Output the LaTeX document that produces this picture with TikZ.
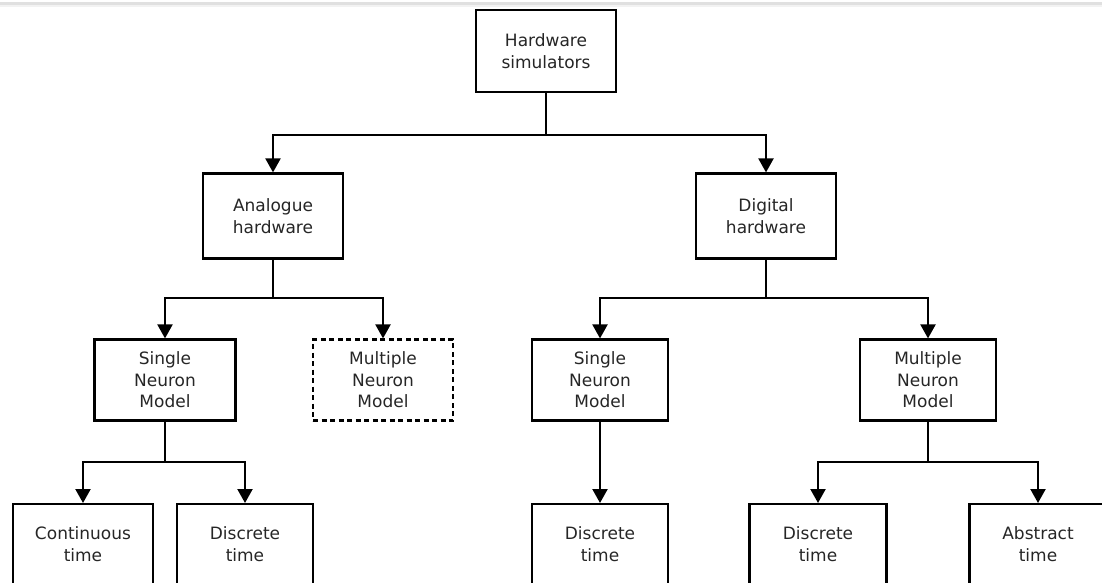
\documentclass[tikz,border=0pt]{standalone}
\usepackage{fontspec}
\setmainfont{DejaVu Sans}
\usetikzlibrary{arrows.meta}
\begin{document}
\begin{tikzpicture}[x=1pt,y=-1pt,
  every node/.style={font=\fontsize{17}{21.5}\selectfont, text=black!85},
  box/.style={draw=black, line width=2.2pt, fill=white, minimum width=138pt, minimum height=82pt, inner sep=0pt, align=center},
  dbox/.style={box, dash pattern=on 5pt off 3.5pt},
  tbox/.style={draw=black, line width=2.2pt, minimum width=138pt, minimum height=140pt, anchor=north, inner sep=0pt},
  lbl/.style={align=center, inner sep=0pt},
  conn/.style={line width=2.2pt, -{Triangle[length=14pt,width=15pt]}},
  plain/.style={line width=2.2pt}]
\useasboundingbox (0,0) rectangle (1102,583);
\clip (0,0) rectangle (1102,583);
\fill[black!12] (0,2.5) rectangle (1102,5.5);
\fill[black!5] (0,5.5) rectangle (1102,7);

\node[box, minimum width=140pt] (hs) at (546,51) {Hardware\\simulators};
\node[box, minimum width=140pt, minimum height=85pt] (ah) at (273,216) {Analogue\\hardware};
\node[box, minimum width=140pt, minimum height=85pt] (dh) at (766,216) {Digital\\hardware};

\node[box, minimum width=141pt, minimum height=81pt] (snl) at (165,380) {Single\\Neuron\\Model};
\node[dbox, minimum width=140pt, minimum height=81pt] (mnl) at (383,380) {Multiple\\Neuron\\Model};
\node[box, minimum width=136pt, minimum height=81pt] (snr) at (600,380) {Single\\Neuron\\Model};
\node[box, minimum width=136pt, minimum height=81pt] (mnr) at (928,380) {Multiple\\Neuron\\Model};

\node[tbox, minimum width=140pt] (ct) at (83,503) {};
\node[lbl] (ctt) at (83,544) {Continuous\\time};
\node[tbox, minimum width=136pt] (dtl) at (245,503) {};
\node[lbl] (dtlt) at (245,544) {Discrete\\time};
\node[tbox, minimum width=136pt] (dtr) at (600,503) {};
\node[lbl] (dtrt) at (600,544) {Discrete\\time};
\node[tbox, minimum width=137pt] (dtm) at (818,503) {};
\node[lbl] (dtmt) at (818,544) {Discrete\\time};
\node[tbox, minimum width=137pt] (at) at (1038,503) {};
\node[lbl] (att) at (1038,544) {Abstract\\time};

% level 1
\draw[plain] (hs.south) -- (546,135) coordinate (j1);
\draw[conn] (j1) -| (ah.north);
\draw[conn] (j1) -| (dh.north);
% level 2
\draw[plain] (ah.south) -- (273,298) coordinate (j2);
\draw[conn] (j2) -| (snl.north);
\draw[conn] (j2) -| (mnl.north);
\draw[plain] (dh.south) -- (766,298) coordinate (j3);
\draw[conn] (j3) -| (snr.north);
\draw[conn] (j3) -| (mnr.north);
% level 3
\draw[plain] (snl.south) -- (165,462) coordinate (j4);
\draw[conn] (j4) -| (ct.north);
\draw[conn] (j4) -| (dtl.north);
\draw[conn] (snr.south) -- (dtr.north);
\draw[plain] (mnr.south) -- (928,462) coordinate (j5);
\draw[conn] (j5) -| (dtm.north);
\draw[conn] (j5) -| (at.north);
\end{tikzpicture}
\end{document}
